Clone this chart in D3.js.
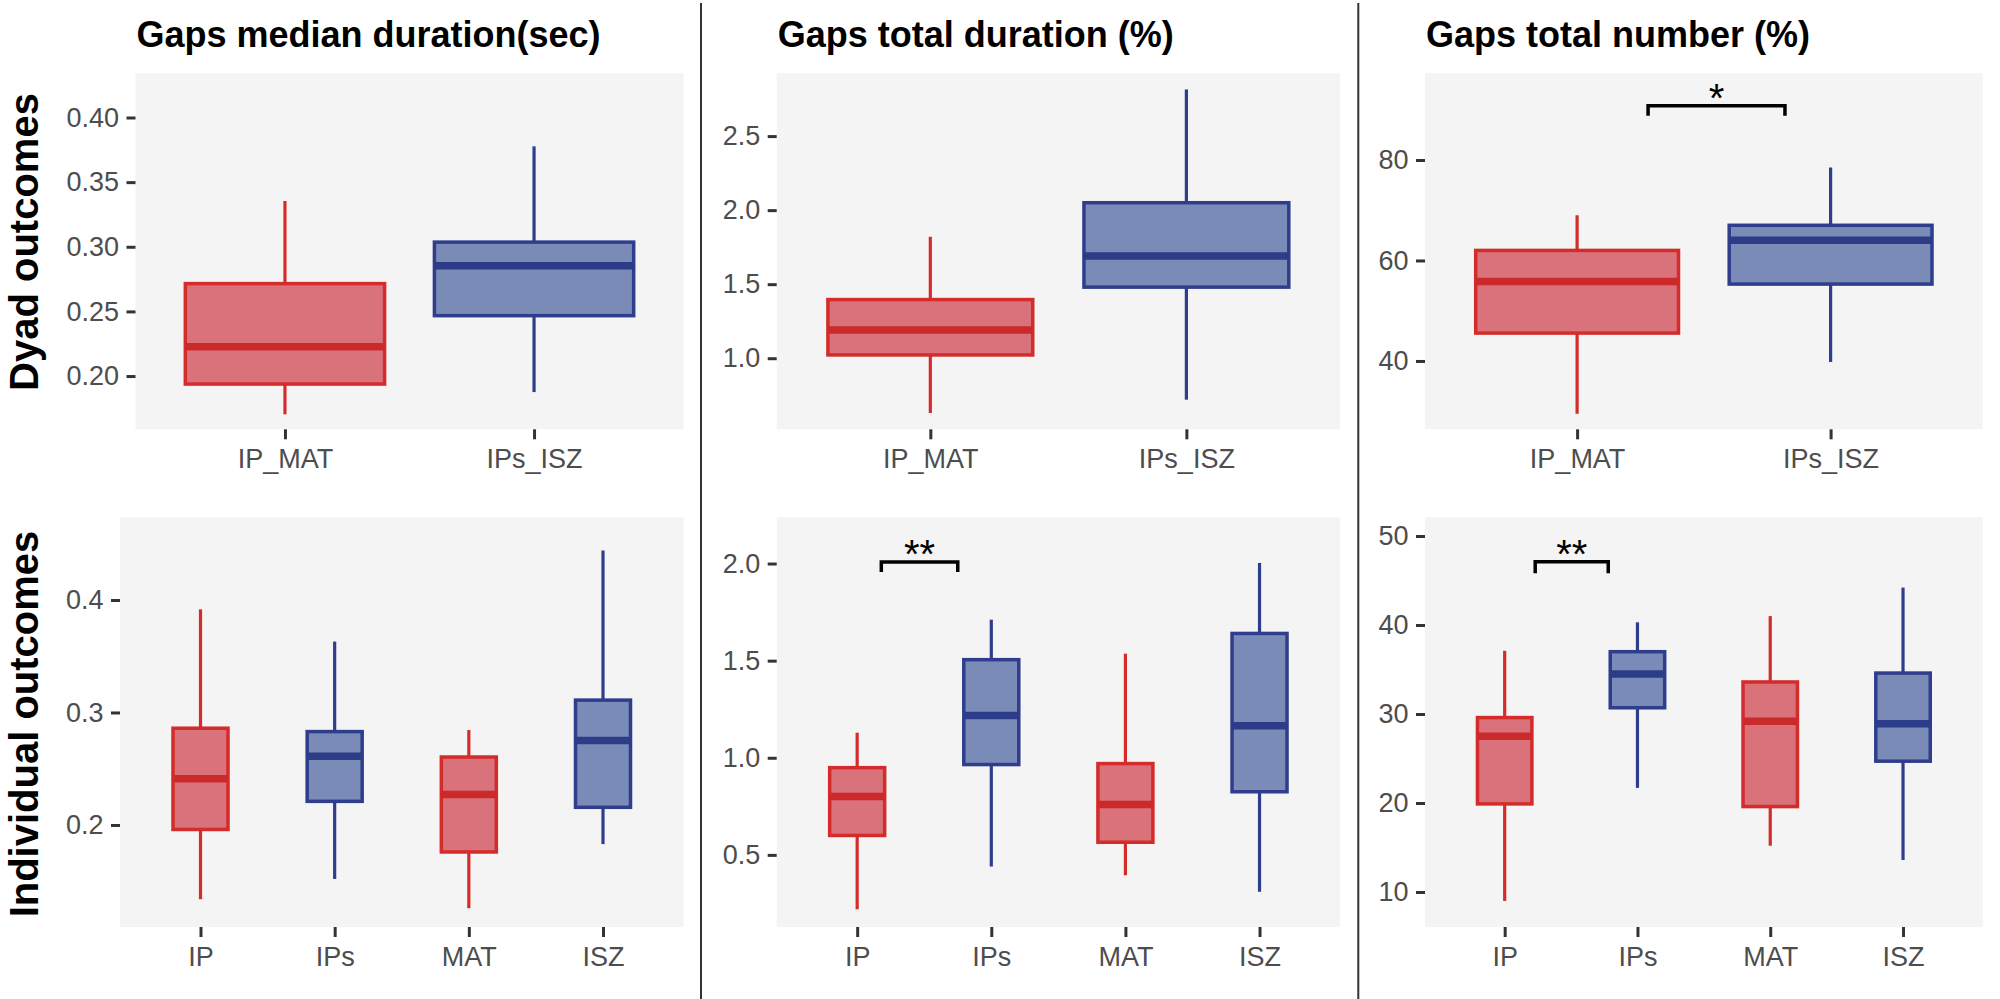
<!DOCTYPE html>
<html>
<head>
<meta charset="utf-8">
<script src="https://cdn.jsdelivr.net/npm/d3@7"></script>
<style>
  body { margin: 0; background: #fff; }
  svg text { font-family: "Liberation Sans", Arial, sans-serif; }
</style>
</head>
<body>
<svg id="chart" width="2000" height="999"></svg>
<script>
// column titles and row labels
const colTitles = ["Gaps median duration(sec)", "Gaps total duration (%)", "Gaps total number (%)"];
const rowLabels = ["Dyad outcomes", "Individual outcomes"];

// categories
const dyadGroups = ["IP_MAT", "IPs_ISZ"];
const indivGroups = ["IP", "IPs", "MAT", "ISZ"];
const redGroups = ["IP_MAT", "IP", "MAT"];

// box stats: [lower whisker, Q1, median, Q3, upper whisker]
const medianDurDyad = [[0.1704, 0.1938, 0.2226, 0.2715, 0.3354], [0.1876, 0.2467, 0.2854, 0.3036, 0.3777]];
const totalDurDyad = [[0.63, 1.022, 1.19, 1.396, 1.82], [0.72, 1.48, 1.69, 2.05, 2.815]];
const totalNumDyad = [[29.5, 45.55, 55.8, 62.0, 69.0], [39.8, 55.3, 64.0, 67.0, 78.5]];
const medianDurIndiv = [[0.134, 0.196, 0.241, 0.286, 0.3917], [0.152, 0.221, 0.261, 0.283, 0.363],
                        [0.126, 0.176, 0.227, 0.2604, 0.2844], [0.183, 0.2157, 0.275, 0.311, 0.444]];
const totalDurIndiv = [[0.22, 0.60, 0.80, 0.949, 1.129], [0.44, 0.965, 1.217, 1.505, 1.711],
                       [0.395, 0.565, 0.76, 0.97, 1.536], [0.31, 0.825, 1.165, 1.64, 2.003]];
const totalNumIndiv = [[9.0, 19.9, 27.5, 29.6, 37.1], [21.7, 30.7, 34.5, 37.0, 40.3],
                       [15.2, 19.6, 29.2, 33.6, 41.0], [13.6, 24.7, 28.9, 34.6, 44.2]];

// y axis limits and ticks per panel (TL, TM, TR, BL, BM, BR)
const yLimits = [[0.1588, 0.4342], [0.52, 2.924], [26.4, 97.25], [0.1093, 0.4735], [0.1287, 2.238], [6.07, 52.1]];
const yTicks = [[0.20, 0.25, 0.30, 0.35, 0.40], [1.0, 1.5, 2.0, 2.5], [40, 60, 80],
                [0.2, 0.3, 0.4], [0.5, 1.0, 1.5, 2.0], [10, 20, 30, 40, 50]];
const yFormats = [".2f", ".1f", "d", ".1f", ".1f", "d"];

// significance brackets
const sigPanel = [2, 4, 5];
const sigFrom = [1.28, 1.18, 1.23];
const sigTo = [1.82, 1.75, 1.78];
const sigY = [90.8, 2.008, 47.1];
const sigTip = [88.8, 1.957, 45.8];
const sigLabel = ["*", "**", "**"];

const svg = d3.select("#chart");

// layout
const colLeft = [[135.5, 776.7, 1425], [120, 776.7, 1425]];
const colRight = [683.5, 1340, 1982.7];
const rowTop = [73.3, 517.3];
const rowBottom = [429.3, 927];
const separators = [701, 1358.3];

const RED = { fill: "#d9727a", stroke: "#d42b2b", median: "#cc2a2a" };
const BLUE = { fill: "#7b8bb7", stroke: "#2e3d8c", median: "#2d3c88" };

const panels = [
  { row: 0, col: 0, groups: dyadGroups, stats: medianDurDyad, bw: 0.8 },
  { row: 0, col: 1, groups: dyadGroups, stats: totalDurDyad, bw: 0.8 },
  { row: 0, col: 2, groups: dyadGroups, stats: totalNumDyad, bw: 0.8 },
  { row: 1, col: 0, groups: indivGroups, stats: medianDurIndiv, bw: 0.41 },
  { row: 1, col: 1, groups: indivGroups, stats: totalDurIndiv, bw: 0.41 },
  { row: 1, col: 2, groups: indivGroups, stats: totalNumIndiv, bw: 0.41 }
];

const scales = [];

panels.forEach((p, i) => {
  const left = colLeft[p.row][p.col];
  const right = colRight[p.col];
  const top = rowTop[p.row];
  const bottom = rowBottom[p.row];

  const x = d3.scalePoint().domain(p.groups).range([left, right]).padding(0.6);
  const y = d3.scaleLinear().domain(yLimits[i]).range([bottom, top]);
  scales.push({ x, y });

  const g = svg.append("g");

  // panel background
  g.append("rect")
    .attr("x", left).attr("y", top)
    .attr("width", right - left).attr("height", bottom - top)
    .attr("fill", "#f4f4f4");

  const half = x.step() * p.bw / 2;
  const boxes = g.selectAll("g.box")
    .data(p.groups.map((grp, k) => ({ grp, s: p.stats[k] })))
    .join("g")
    .attr("class", "box");

  boxes.each(function (d) {
    const c = redGroups.includes(d.grp) ? RED : BLUE;
    const b = d3.select(this);
    const cx = x(d.grp);
    // whiskers
    b.append("line")
      .attr("x1", cx).attr("x2", cx)
      .attr("y1", y(d.s[0])).attr("y2", y(d.s[1]))
      .attr("stroke", c.stroke).attr("stroke-width", 3.2);
    b.append("line")
      .attr("x1", cx).attr("x2", cx)
      .attr("y1", y(d.s[3])).attr("y2", y(d.s[4]))
      .attr("stroke", c.stroke).attr("stroke-width", 3.2);
    // box
    b.append("rect")
      .attr("x", cx - half).attr("y", y(d.s[3]))
      .attr("width", half * 2).attr("height", y(d.s[1]) - y(d.s[3]))
      .attr("fill", c.fill).attr("stroke", c.stroke).attr("stroke-width", 3.5);
    // median
    b.append("line")
      .attr("x1", cx - half).attr("x2", cx + half)
      .attr("y1", y(d.s[2])).attr("y2", y(d.s[2]))
      .attr("stroke", c.median).attr("stroke-width", 7.5);
  });

  // y axis
  const yAxis = g.append("g")
    .attr("transform", `translate(${left},0)`)
    .call(d3.axisLeft(y).tickValues(yTicks[i]).tickFormat(d3.format(yFormats[i]))
      .tickSize(9).tickPadding(7.5));
  yAxis.select(".domain").remove();

  // x axis
  const xAxis = g.append("g")
    .attr("transform", `translate(0,${bottom})`)
    .call(d3.axisBottom(x).tickSize(10).tickPadding(9.5));
  xAxis.select(".domain").remove();

  [yAxis, xAxis].forEach(a => {
    a.selectAll(".tick line").attr("stroke", "#333").attr("stroke-width", 3);
    a.selectAll(".tick text").attr("fill", "#4d4d4d").attr("font-size", 27);
  });
});

// significance brackets
sigPanel.forEach((pi, k) => {
  const { x, y } = scales[pi];
  const step = x.step();
  const x0 = x(x.domain()[0]);
  const xa = x0 + (sigFrom[k] - 1) * step;
  const xb = x0 + (sigTo[k] - 1) * step;
  const yb = y(sigY[k]);
  const yt = y(sigTip[k]);
  svg.append("path")
    .attr("d", `M${xa},${yt}L${xa},${yb}L${xb},${yb}L${xb},${yt}`)
    .attr("fill", "none").attr("stroke", "#000").attr("stroke-width", 3.5);
  svg.append("text")
    .attr("x", (xa + xb) / 2).attr("y", yb + 6.5)
    .attr("text-anchor", "middle")
    .attr("font-size", 40)
    .attr("fill", "#000")
    .text(sigLabel[k]);
});

// column titles
colTitles.forEach((t, c) => {
  svg.append("text")
    .attr("x", colLeft[0][c] + 1).attr("y", 46.5)
    .attr("font-size", 36).attr("font-weight", "bold").attr("fill", "#000")
    .text(t);
});

// row labels
const rowCenters = [242, 724];
rowLabels.forEach((t, r) => {
  svg.append("text")
    .attr("transform", `translate(38,${rowCenters[r]}) rotate(-90)`)
    .attr("text-anchor", "middle")
    .attr("font-size", 40).attr("font-weight", "bold").attr("fill", "#000")
    .text(t);
});

// separators between columns
svg.selectAll("line.sep")
  .data(separators)
  .join("line")
  .attr("class", "sep")
  .attr("x1", d => d).attr("x2", d => d)
  .attr("y1", 3).attr("y2", 999)
  .attr("stroke", "#333").attr("stroke-width", 2);
</script>
</body>
</html>
